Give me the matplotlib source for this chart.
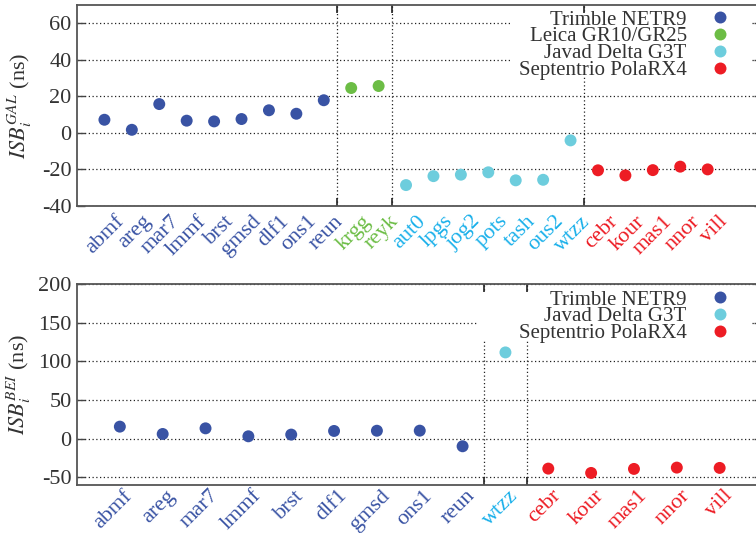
import matplotlib
matplotlib.use('Agg')
import matplotlib.pyplot as plt
from matplotlib.lines import Line2D
from matplotlib.patches import Rectangle
from matplotlib.transforms import blended_transform_factory, ScaledTranslation
import numpy as np

plt.rcParams['font.family'] = ['Liberation Serif', 'DejaVu Serif']
plt.rcParams['mathtext.fontset'] = 'stix'

# ---------------- data ----------------
receivers = ['Trimble NETR9', 'Leica GR10/GR25', 'Javad Delta G3T', 'Septentrio PolaRX4']
marker_colors = ['#3953a4', '#6cbd45', '#6dcddd', '#ed1c24']
label_colors = ['#3953a4', '#6cbd45', '#1ab0ea', '#ed1c24']

gal_stations = ['abmf', 'areg', 'mar7', 'lmmf', 'brst', 'gmsd', 'dlf1', 'ons1', 'reun',
                'krgg', 'reyk',
                'aut0', 'lpgs', 'jog2', 'pots', 'tash', 'ous2', 'wtzz',
                'cebr', 'kour', 'mas1', 'nnor', 'vill']
gal_receiver = [0] * 9 + [1] * 2 + [2] * 7 + [3] * 5
gal_isb = [7.1, 1.6, 15.7, 6.6, 6.2, 7.5, 12.3, 10.4, 17.8,
           24.5, 25.6,
           -28.7, -23.8, -23.0, -21.7, -26.1, -25.8, -4.2,
           -20.6, -23.4, -20.5, -18.6, -20.1]
gal_separators = [9.5, 11.5, 18.5]
gal_yticks = [-40, -20, 0, 20, 40, 60]

bei_stations = ['abmf', 'areg', 'mar7', 'lmmf', 'brst', 'dlf1', 'gmsd', 'ons1', 'reun',
                'wtzz',
                'cebr', 'kour', 'mas1', 'nnor', 'vill']
bei_receiver = [0] * 9 + [2] + [3] * 5
bei_isb = [15.5, 6.0, 13.3, 3.0, 5.2, 9.9, 10.2, 10.3, -9.9,
           111.5,
           -38.8, -44.4, -39.2, -37.5, -37.9]
bei_separators = [9.5, 10.5]
bei_yticks = [-50, 0, 50, 100, 150, 200]

# ---------------- figure ----------------
W, H = 756, 533
fig = plt.figure(figsize=(W / 100, H / 100), dpi=100)
TXT = '#333333'
FS = 15
TICK_FS = 16
LAB_FS = 16


def px_axes(left, top, right, bottom):
    return [left / W, 1 - bottom / H, (right - left) / W, (bottom - top) / H]


def panel(ax, stations, receiver, values, seps, xmax, ylim, yticks, ylabel,
          legend_recv, box, leg_top, lab_off):
    x = np.arange(1, len(stations) + 1)
    ax.set_xlim(0, xmax)
    ax.set_ylim(*ylim)
    ax.set_yticks(yticks)
    ax.set_yticklabels([str(v) for v in yticks])
    ax.set_xticks(seps)
    ax.tick_params(axis='x', which='major', labelbottom=False, direction='in',
                   length=6, width=1.2, top=True, bottom=True, color='#222222')
    ax.tick_params(axis='y', direction='in', length=6, width=1.0, left=True,
                   right=True, labelsize=TICK_FS, labelcolor=TXT, color='#444444', pad=4)
    ax.set_axisbelow(True)
    ax.grid(True, which='major', linestyle=(0, (1, 2)), color='#222222', lw=0.9)
    for s in ax.spines.values():
        s.set_color('#555555')
        s.set_linewidth(1.3)

    cols = [marker_colors[r] for r in receiver]
    ax.scatter(x, values, c=cols, s=74, linewidths=0, zorder=3)

    # white legend background
    ax.add_patch(Rectangle((box[0], box[1]), 0.985 - box[0], 0.955 - box[1],
                           transform=ax.transAxes, facecolor='white',
                           edgecolor='none', zorder=1))

    # station labels
    trans = blended_transform_factory(ax.transData, ax.transAxes)
    off = ScaledTranslation(lab_off[0] / 100, -lab_off[1] / 100, fig.dpi_scale_trans)
    for xi, st, r in zip(x, stations, receiver):
        ax.text(xi, 0, st, transform=trans + off, rotation=45, ha='right',
                va='center', rotation_mode='anchor', color=label_colors[r],
                fontsize=LAB_FS)

    fig.text(19 / W, 0.5 * (ax.get_position().y0 + ax.get_position().y1), ylabel,
             rotation=90, ha='center', va='center', fontsize=FS + 1, color=TXT)

    handles = [Line2D([], [], linestyle='none', marker='o', markersize=8.6,
                      markerfacecolor=marker_colors[r], markeredgewidth=0)
               for r in legend_recv]
    leg = ax.legend(handles, [receivers[r] for r in legend_recv],
                    loc='upper right', bbox_to_anchor=(730.4 / W, 1 - leg_top / H),
                    bbox_transform=fig.transFigure, frameon=False,
                    markerfirst=False, handlelength=1.0, handletextpad=1.1,
                    borderpad=0, borderaxespad=0, labelspacing=-0.13,
                    fontsize=FS, numpoints=1)
    for t in leg.get_texts():
        t.set_color(TXT)


ax1 = fig.add_axes(px_axes(77, 5, 762.5, 205.7))
panel(ax1, gal_stations, gal_receiver, gal_isb, gal_separators, 25, (-40, 70),
      gal_yticks, r'$ISB_i^{GAL}$ (ns)', [0, 1, 2, 3],
      ((510 - 77) / 685.5, (205.7 - 77) / 200.7), 10, (17, 13))

ax2 = fig.add_axes(px_axes(77, 284, 762.5, 485))
panel(ax2, bei_stations, bei_receiver, bei_isb, bei_separators, 16, (-60, 200),
      bei_yticks, r'$ISB_i^{BEI}$ (ns)', [0, 2, 3],
      ((478 - 77) / 685.5, (485 - 340) / 201), 290, (10, 8))

fig.savefig('out.png', dpi=100)
